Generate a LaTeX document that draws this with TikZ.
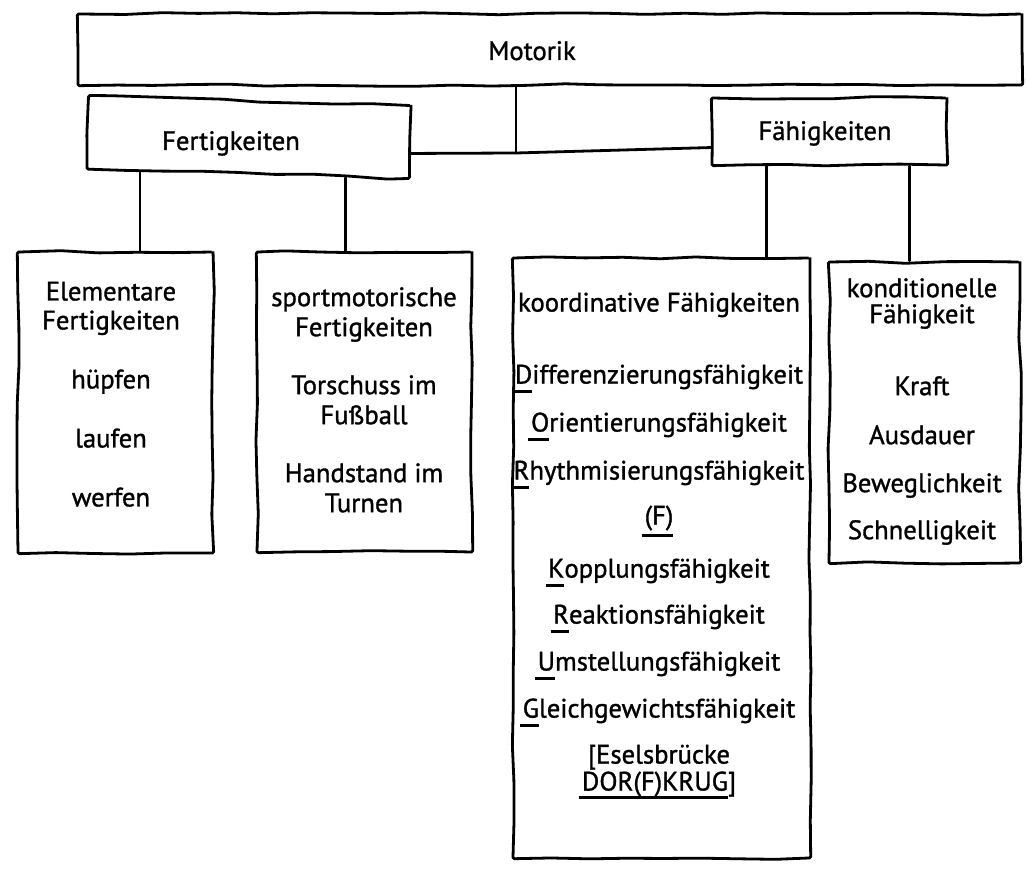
\documentclass[tikz,border=0pt]{standalone}
\usepackage{fontspec}
\setmainfont{PT Sans}[FakeBold=1.2]
\usetikzlibrary{decorations.pathmorphing,calc}
\setlength{\lineskiplimit}{-30pt}
% underline the initial letter(s) of a word with a marker-like stroke
\newcommand\initmark[2][-7pt]{\leavevmode\setbox0=\hbox{#2}%
  \rlap{\kern-2pt\raisebox{#1}{\rule{\dimexpr\wd0+2pt\relax}{1.8pt}}}\box0}
\begin{document}
\begin{tikzpicture}[x=0.75pt,y=-0.75pt,
  frame/.style={draw, line width=2.1pt, line join=round, rectangle, inner sep=0pt,
    decorate, decoration={random steps, segment length=28pt, amplitude=1pt},
    rounded corners=1pt},
  link/.style={line width=2.1pt, line cap=round},
  words/.style={inner sep=0pt, font=\fontsize{20}{24}\selectfont},
  stack/.style={words, align=center, anchor=north}]
\pgfmathsetseed{4}
\useasboundingbox (0,0) rectangle (1027,870);

% top level
\node[frame, minimum width=708pt, minimum height=53.25pt] (mot) at (550,49.5) {};
\node[words, anchor=base] (mot-t) at (532,60) {Motorik};

\node[frame, minimum width=241.5pt, minimum height=54.75pt, rotate=-1.8] (fert) at (249,137) {};
\node[words, anchor=base] (fert-t) at (231,150) {Fertigkeiten};

\node[frame, minimum width=176.25pt, minimum height=50.25pt] (faeh) at (829.5,131.5) {};
\node[words, anchor=base] (faeh-t) at (825,140) {Fähigkeiten};

% second level
\node[frame, minimum width=146.25pt, minimum height=225.75pt] (elem) at (115.5,402.5) {};
\node[frame, minimum width=161.25pt, minimum height=225pt] (sport) at (364.5,402) {};
\node[frame, minimum width=222.75pt, minimum height=450pt] (koord) at (661.5,558) {};
\node[frame, minimum width=143.25pt, minimum height=225.75pt] (kond) at (924.5,412.5) {};

\node[stack, font=\fontsize{20}{21.75}\selectfont] (elem-t) at (111,281.5)
  {Elementare\\Fertigkeiten\\[22.5pt]hüpfen\\[22.5pt]laufen\\[22.5pt]werfen};
\node[stack, font=\fontsize{20}{22.5}\selectfont] (sport-t) at (364,287)
  {sportmotorische\\Fertigkeiten\\[21pt]Torschuss im\\Fußball\\[21pt]Handstand im\\Turnen};
\node[stack, font=\fontsize{20}{20.25}\selectfont] (koord-t) at (659,292.4)
  {koordinative Fähigkeiten\\[33.75pt]%
   \initmark{D}ifferenzierungsfähigkeit\\[15.75pt]%
   \initmark{O}rientierungsfähigkeit\\[15.75pt]%
   \initmark{R}hythmisierungsfähigkeit\\[13.5pt]%
   \initmark[-9pt]{(F)}\\[19.5pt]%
   \initmark{K}opplungsfähigkeit\\[14.25pt]%
   \initmark{R}eaktionsfähigkeit\\[15pt]%
   \initmark{U}mstellungsfähigkeit\\[15pt]%
   \initmark{G}leichgewichtsfähigkeit\\[14.25pt]%
   {[}Eselsbrücke\\%
   \initmark[-6pt]{DOR(F)KRUG}{]}};
\node[stack, font=\fontsize{20}{19.5}\selectfont] (kond-t) at (922,278)
  {konditionelle\\Fähigkeit\\[34.5pt]Kraft\\[17.25pt]Ausdauer\\[16.5pt]Beweglichkeit\\[15.75pt]Schnelligkeit};

% connectors
\coordinate (j) at (516,153);
\draw[link] (mot.south -| j) -- (j);
\draw[link] ($(fert.north east)!0.65!(fert.south east)$) -- (j)
  -- ($(faeh.north west)!0.73!(faeh.south west)$);

\coordinate (f1) at ($(fert.south west)!0.168!(fert.south east)$);
\coordinate (f2) at ($(fert.south west)!0.80!(fert.south east)$);
\coordinate (g1) at ($(faeh.south west)!0.234!(faeh.south east)$);
\coordinate (g2) at ($(faeh.south west)!0.838!(faeh.south east)$);
\draw[link] (f1) -- (f1 |- elem.north);
\draw[link] (f2) -- (f2 |- sport.north);
\draw[link] (g1) -- (g1 |- koord.north);
\draw[link] (g2) -- (g2 |- kond.north);
\end{tikzpicture}
\end{document}
